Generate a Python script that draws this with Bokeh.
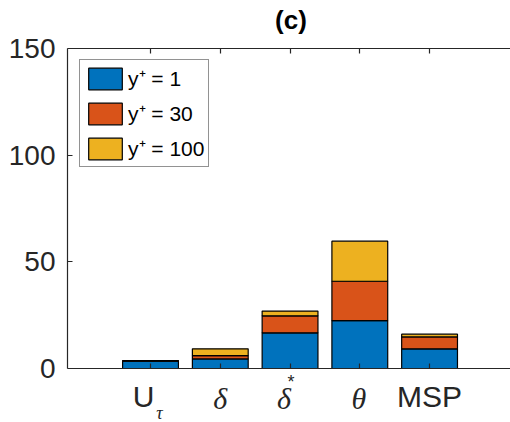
from bokeh.plotting import figure
from bokeh.models import Range1d, FixedTicker, LinearAxis, Legend, LegendItem
from bokeh.core.properties import value
from bokeh.embed import file_html
from bokeh.resources import INLINE

# ---- data ----
categories = ["U_τ", "δ", "δ*", "θ", "MSP"]
series_names = ["y⁺ = 1", "y⁺ = 30", "y⁺ = 100"]
yp1 = [3.4, 4.5, 16.7, 22.4, 9.2]
yp30 = [0.2, 1.5, 8.0, 18.5, 5.6]
yp100 = [0.1, 3.2, 2.2, 18.8, 1.3]
y_ticks = [0, 50, 100, 150]
colors = ["#0072BD", "#D95319", "#EDB120"]
title_text = "(c)"

xs = list(range(1, len(categories) + 1))
data = {"x": xs, "s1": yp1, "s2": yp30, "s3": yp100}

AX = "#262626"
W, H = 510, 422
TOP, AXIS_Y = 48, 368            # pixel rows of the 150 and 0 levels
YMIN, YMAX = y_ticks[0], y_ticks[-1]
k = (AXIS_Y - TOP) / (YMAX - YMIN)   # px per unit
XR = Range1d(-0.19, 6.16)

p = figure(width=W, height=H, output_backend="svg", toolbar_location=None,
           x_range=XR, y_range=Range1d(YMIN - (H - AXIS_Y) / k, YMAX + TOP / k),
           min_border_left=67, min_border_right=0, min_border_top=0,
           min_border_bottom=0, x_axis_location=None, y_axis_location=None)
p.outline_line_color = None
p.xgrid.visible = False
p.ygrid.visible = False

rs = p.vbar_stack(["s1", "s2", "s3"], x="x", width=0.8, source=data,
                  fill_color=colors, line_color="black", line_width=1.2)

def style_axis(ax):
    ax.axis_line_color = AX
    ax.axis_line_width = 1.2
    ax.major_tick_line_color = AX
    ax.major_tick_line_width = 1.2
    ax.major_tick_in = 5
    ax.major_tick_out = 0
    ax.minor_tick_line_color = None

yax = LinearAxis(ticker=FixedTicker(ticks=y_ticks), bounds=(YMIN, YMAX))
style_axis(yax)
yax.major_label_text_font = "Liberation Sans"
yax.major_label_text_font_size = "28px"
yax.major_label_text_color = AX
yax.major_label_standoff = 12
p.add_layout(yax, "left")

for loc, at in (("above", YMAX), ("below", YMIN)):
    ax = LinearAxis(ticker=FixedTicker(ticks=xs), fixed_location=at)
    style_axis(ax)
    ax.major_label_text_color = None
    ax.major_label_text_font_size = "0px"
    ax.major_label_standoff = 0
    p.add_layout(ax, loc)

legend = Legend(items=[LegendItem(label=series_names[i], renderers=[rs[i]]) for i in range(3)],
                location=(12, H - 167), margin=0, padding=4, spacing=7,
                glyph_width=42, glyph_height=27, label_standoff=2,
                label_text_font="Liberation Sans", label_text_font_size="21px",
                label_text_color="black", border_line_color=AX, border_line_width=1.2,
                background_fill_alpha=1.0)
p.add_layout(legend, "center")

# ---- texts, vertically centred a number of pixels from the axis line ----
def tl(x, px_below, text, font, size, style="normal", dx=0, color=AX):
    p.text(x=[x], y=[YMIN - px_below / k], text=[text], text_font=value(font),
           text_font_size=size, text_font_style=style, text_color=color,
           text_align="center", text_baseline="middle", x_offset=dx)

# title, centred over the axes
tl((XR.start + XR.end) / 2, -(AXIS_Y - 19), title_text, "Liberation Sans", "26px",
   "bold", dx=2, color="black")

tl(xs[0], 28, "U", "Liberation Sans", "30px", dx=-7)
tl(xs[0], 44, "τ", "Liberation Serif", "18px", "italic", dx=9)
tl(xs[1], 30, "δ", "Liberation Serif", "30px", "italic", dx=0)
tl(xs[2], 30, "δ", "Liberation Serif", "30px", "italic", dx=-6)
tl(xs[2], 13, "*", "Liberation Sans", "18px", dx=1)
tl(xs[3], 30, "θ", "Liberation Serif", "30px", "italic", dx=-1)
tl(xs[4], 28, "MSP", "Liberation Sans", "30px", dx=0)

open("out.html", "w").write(file_html(p, INLINE))
